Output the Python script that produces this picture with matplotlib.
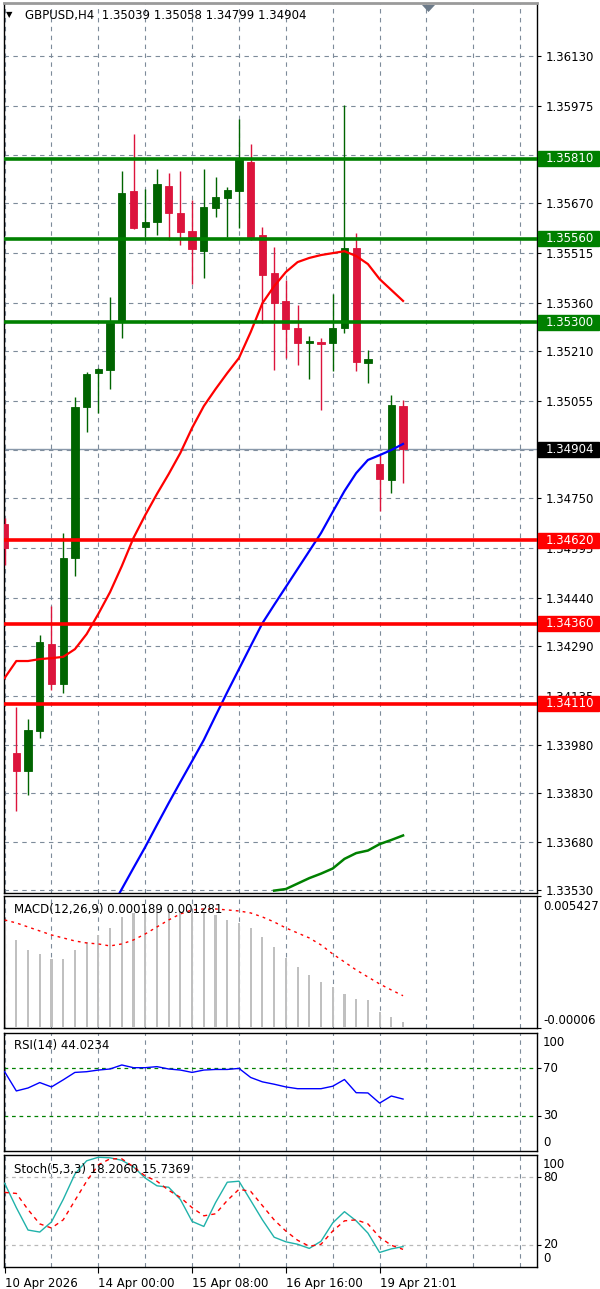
import matplotlib
matplotlib.use("Agg")
import matplotlib.pyplot as plt
import matplotlib.transforms as mtrans
from matplotlib.patches import Rectangle, Polygon

# ---------------- data ----------------
symbol_title = "GBPUSD,H4"
last_ohlc = ["1.35039", "1.35058", "1.34799", "1.34904"]

opens = [1.34670, 1.33956, 1.33900, 1.34025, 1.34296, 1.34171, 1.34564, 1.35035, 1.35141, 1.35150,
         1.35303, 1.35708, 1.35596, 1.35612, 1.35724, 1.35640, 1.35584, 1.35521, 1.35655, 1.35687,
         1.35708, 1.35799, 1.35571, 1.35453, 1.35366, 1.35281, 1.35235, 1.35238, 1.35235, 1.35281,
         1.35531, 1.35172, 1.34857, 1.34807, 1.35039]
highs = [1.34689, 1.34100, 1.34062, 1.34324, 1.34414, 1.34642, 1.35066, 1.35144, 1.35157, 1.35378,
         1.35771, 1.35886, 1.35715, 1.35777, 1.35765, 1.35771, 1.35680, 1.35777, 1.35752, 1.35721,
         1.35933, 1.35855, 1.35596, 1.35534, 1.35431, 1.35353, 1.35256, 1.35250, 1.35387, 1.35977,
         1.35578, 1.35213, 1.34885, 1.35072, 1.35058]
lows = [1.34542, 1.33775, 1.33825, 1.34003, 1.34153, 1.34143, 1.34508, 1.34957, 1.35016, 1.35091,
        1.35250, 1.35590, 1.35565, 1.35571, 1.35556, 1.35540, 1.35419, 1.35437, 1.35627, 1.35565,
        1.35593, 1.35556, 1.35297, 1.35150, 1.35188, 1.35166, 1.35122, 1.35026, 1.35147, 1.35266,
        1.35147, 1.35110, 1.34711, 1.34767, 1.34799]
closes = [1.34595, 1.33900, 1.34028, 1.34302, 1.34171, 1.34564, 1.35035, 1.35138, 1.35153, 1.35297,
          1.35702, 1.35593, 1.35612, 1.35730, 1.35640, 1.35581, 1.35528, 1.35659, 1.35690, 1.35712,
          1.35811, 1.35565, 1.35447, 1.35359, 1.35278, 1.35235, 1.35241, 1.35231, 1.35281, 1.35531,
          1.35175, 1.35185, 1.34810, 1.35040, 1.34904]

ma_red = [1.34190, 1.34243, 1.34243, 1.34249, 1.34252, 1.34256, 1.34280, 1.34327, 1.34390, 1.34458,
          1.34539, 1.34627, 1.34698, 1.34764, 1.34826, 1.34892, 1.34970, 1.35038, 1.35091, 1.35141,
          1.35188, 1.35269, 1.35359, 1.35412, 1.35456, 1.35487, 1.35500, 1.35509, 1.35515, 1.35521,
          1.35506, 1.35481, 1.35434, 1.35400, 1.35366]
ma_blue_start = 9
ma_blue = [1.33467, 1.33532, 1.33598, 1.33663, 1.33732, 1.33800, 1.33866, 1.33931, 1.33997, 1.34072,
           1.34146, 1.34218, 1.34290, 1.34361, 1.34418, 1.34474, 1.34530, 1.34586, 1.34642, 1.34708,
           1.34773, 1.34829, 1.34870, 1.34885, 1.34901, 1.34920]
ma_green_start = 23
ma_green = [1.33527, 1.33532, 1.33549, 1.33566, 1.33580, 1.33596, 1.33626, 1.33644, 1.33652, 1.33672,
            1.33685, 1.33699]

resistance_levels = [1.35810, 1.35560, 1.35300]
support_levels = [1.34620, 1.34360, 1.34110]
bid_price = 1.34904

price_ticks = [1.36130, 1.35975, 1.35820, 1.35670, 1.35515, 1.35360, 1.35210, 1.35055, 1.34900,
               1.34750, 1.34595, 1.34440, 1.34290, 1.34135, 1.33980, 1.33830, 1.33680, 1.33530]
price_tick_labels = ["1.36130", "1.35975", "", "1.35670", "1.35515", "1.35360", "1.35210", "1.35055", "",
                     "1.34750", "1.34595", "1.34440", "1.34290", "1.34135", "1.33980", "1.33830", "1.33680",
                     "1.33530"]

macd_hist = [0.004307, 0.003600, 0.003184, 0.003018, 0.002810, 0.002810, 0.003184, 0.003517, 0.003808,
             0.004099, 0.004556, 0.004722, 0.004847, 0.004889, 0.004889, 0.004806, 0.004722, 0.004722,
             0.004639, 0.004431, 0.004307, 0.004099, 0.003725, 0.003309, 0.002852, 0.002478, 0.002145,
             0.001854, 0.001646, 0.001355, 0.001147, 0.001106, 0.000607, 0.000399, 0.000189]
macd_signal = [0.004431, 0.004307, 0.004140, 0.003974, 0.003808, 0.003683, 0.003558, 0.003475, 0.003434,
               0.003351, 0.003434, 0.003600, 0.003849, 0.004140, 0.004431, 0.004681, 0.004847, 0.004889,
               0.004889, 0.004847, 0.004805, 0.004722, 0.004556, 0.004348, 0.004099, 0.003891, 0.003683,
               0.003392, 0.003018, 0.002685, 0.002353, 0.002062, 0.001771, 0.001521, 0.001281]
macd_scale = [-0.00006, 0.005427]
macd_scale_labels = ["-0.00006", "0.005427"]

rsi = [67.2, 50.9, 53.4, 58.0, 54.3, 60.3, 66.6, 67.2, 68.6, 69.5,
       72.9, 70.6, 70.6, 71.5, 69.5, 68.6, 66.6, 68.6, 69.1, 69.1,
       70.0, 62.3, 58.6, 56.6, 54.3, 52.8, 52.8, 52.8, 54.9, 60.6,
       49.4, 49.2, 40.6, 46.6, 44.0234]
rsi_levels = [70, 30]
rsi_ticks = [100, 70, 30, 0]

stoch_main = [74.8, 53.0, 33.0, 31.2, 40.3, 60.3, 83.0, 94.8, 98.0, 97.5,
              95.3, 89.4, 79.4, 72.5, 71.2, 60.3, 40.7, 36.2, 57.5, 75.7,
              76.6, 59.4, 42.1, 26.6, 22.5, 20.3, 16.6, 23.0, 39.4, 49.4,
              41.2, 30.3, 13.0, 16.2, 18.206]
stoch_signal = [66.6, 65.7, 51.2, 38.5, 34.8, 42.1, 59.4, 76.6, 91.2, 96.6,
                96.6, 89.4, 81.2, 76.6, 68.5, 62.1, 53.0, 45.7, 47.5, 59.4,
                69.4, 67.5, 54.8, 42.1, 32.1, 23.9, 18.5, 20.3, 32.1, 41.2,
                42.1, 38.5, 26.6, 19.4, 15.7369]
stoch_levels = [80, 20]
stoch_ticks = [100, 80, 20, 0]

time_labels = ["10 Apr 2026", "14 Apr 00:00", "15 Apr 08:00", "16 Apr 16:00", "19 Apr 21:01"]
time_label_bars = [0, 8, 16, 24, 32]

# ---------------- styling ----------------
W, H = 600, 1289
BULL = "#006400"
BEAR = "#dc143c"
GRID = "#7d8b9a"
FS = 8.5
plt.rcParams["font.family"] = ["DejaVu Sans"]

fig = plt.figure(figsize=(W / 100, H / 100), dpi=100)
fig.patch.set_facecolor("white")


def px_axes(left, top, right, bottom):
    return fig.add_axes([left / W, 1 - bottom / H, (right - left) / W, (bottom - top) / H])


n = len(closes)
bars = list(range(n))
XL = (-0.051, 45.43)
grid_bars = list(range(0, 46, 4))

ax = px_axes(4, 3, 537, 893)
ax_macd = px_axes(4, 896, 537, 1028)
ax_rsi = px_axes(4, 1033, 537, 1151)
ax_st = px_axes(4, 1155, 537, 1267)

for a in (ax, ax_macd, ax_rsi, ax_st):
    a.set_xlim(*XL)
    for s in a.spines.values():
        s.set_color("black")
        s.set_linewidth(1.0)
    a.yaxis.tick_right()
    a.tick_params(axis="y", which="both", direction="out", length=3, width=0.8,
                  labelsize=FS, pad=3, colors="black", left=False, right=True)
    a.tick_params(axis="x", bottom=False, labelbottom=False)
    for gb in grid_bars:
        a.axvline(gb, color=GRID, lw=0.8, ls=(0, (4, 4)), zorder=0.5)
ax.spines["top"].set_color("#9a9a9a")
ax.spines["top"].set_linewidth(2.0)

# ---------------- main chart ----------------
ax.set_ylim(1.335196, 1.36295)
ax.set_yticks(price_ticks)
ax.set_yticklabels(price_tick_labels)
for p in price_ticks:
    ax.axhline(p, color=GRID, lw=0.8, ls=(0, (4, 4)), zorder=0.5)

# bid line
ax.axhline(bid_price, color="#8a99aa", lw=1.0, zorder=1)

# candles
for i in bars:
    o, h, l, c = opens[i], highs[i], lows[i], closes[i]
    col = BULL if c >= o else BEAR
    ax.vlines(i, l, h, color=col, lw=1.0, zorder=3)
    ax.bar(i, abs(c - o), bottom=min(o, c), width=0.62, color=col, edgecolor=col,
           linewidth=0.6, zorder=4)

# moving averages
ax.plot(bars, ma_red, color="#ff0000", lw=1.6, zorder=5)
ax.plot(range(ma_blue_start, ma_blue_start + len(ma_blue)), ma_blue, color="#0000ff", lw=1.6, zorder=5)
ax.plot(range(ma_green_start, ma_green_start + len(ma_green)), ma_green, color="#008000", lw=1.8, zorder=5)

# support / resistance lines
for lv in resistance_levels:
    ax.axhline(lv, color="#008000", lw=2.6, zorder=6)
for lv in support_levels:
    ax.axhline(lv, color="#ff0000", lw=2.6, zorder=6)

# right-axis price boxes
bt = mtrans.blended_transform_factory(ax.transAxes, ax.transData)
box_h = 15 / (890 / (1.36295 - 1.335196))
box_w = 61 / 533.0


def price_box(val, face):
    ax.add_patch(Rectangle((1.0 + 1 / 533, val - box_h / 2), box_w, box_h, transform=bt,
                           facecolor=face, edgecolor=face, clip_on=False, zorder=10))
    ax.text(1.0 + 9 / 533, val, f"{val:.5f}", transform=bt, color="white", fontsize=FS,
            va="center", ha="left", clip_on=False, zorder=11)


for lv in resistance_levels:
    price_box(lv, "#008000")
for lv in support_levels:
    price_box(lv, "#ff0000")
price_box(bid_price, "black")

# header
fig.text(6 / W, 1 - 15 / H, "\u25bc", fontsize=6, color="black", va="center", ha="left")
fig.text(25 / W, 1 - 15 / H, f"{symbol_title}  " + " ".join(last_ohlc), fontsize=FS,
         color="black", va="center", ha="left")
# chart-shift marker
tri = Polygon([[422 / W, 1 - 5 / H], [435 / W, 1 - 5 / H], [428.5 / W, 1 - 12 / H]],
              closed=True, transform=fig.transFigure, facecolor="#6c7a89", edgecolor="none")
fig.add_artist(tri)


def side_label(a, y_axes, text):
    a.text(1.0 + 6 / 533, y_axes, text, transform=a.transAxes, fontsize=FS, color="black",
           va="center", ha="left", clip_on=False)


# ---------------- MACD ----------------
ax_macd.set_ylim(*macd_scale)
ax_macd.bar(bars, macd_hist, width=0.18, color="#c0c0c0", zorder=2)
ax_macd.plot(bars, macd_signal, color="#ff0000", lw=1.0, ls=(0, (2, 3)), zorder=3)
ax_macd.set_yticks(macd_scale)
ax_macd.set_yticklabels([])
side_label(ax_macd, 1 - 10 / 132, macd_scale_labels[1])
side_label(ax_macd, 1 - 124 / 132, macd_scale_labels[0])
ax_macd.text(10 / 533, 1 - 14 / 132, "MACD(12,26,9) 0.000189 0.001281", transform=ax_macd.transAxes,
             fontsize=FS, va="center", ha="left", color="black", zorder=6)

# ---------------- RSI ----------------
ax_rsi.set_ylim(0, 100)
for lv in rsi_levels:
    ax_rsi.axhline(lv, color="#008000", lw=0.9, ls=(0, (3, 3)), zorder=1)
ax_rsi.plot(bars, rsi, color="#0000ff", lw=1.0, zorder=3)
ax_rsi.set_yticks(rsi_levels)
ax_rsi.set_yticklabels([])
side_label(ax_rsi, 1 - 10 / 118, str(rsi_ticks[0]))
for lv in rsi_levels:
    side_label(ax_rsi, lv / 100, str(lv))
side_label(ax_rsi, 1 - 109 / 118, str(rsi_ticks[3]))
ax_rsi.text(10 / 533, 1 - 13 / 118, "RSI(14) 44.0234", transform=ax_rsi.transAxes,
            fontsize=FS, va="center", ha="left", color="black", zorder=6)

# ---------------- Stochastic ----------------
ax_st.set_ylim(0, 100)
for lv in stoch_levels:
    ax_st.axhline(lv, color="#b8b8b8", lw=0.9, ls=(0, (3, 3)), zorder=1)
ax_st.plot(bars, stoch_main, color="#20b2aa", lw=1.0, zorder=3)
ax_st.plot(bars, stoch_signal, color="#ff0000", lw=1.0, ls=(0, (3, 3)), zorder=3)
ax_st.set_yticks(stoch_levels)
ax_st.set_yticklabels([])
side_label(ax_st, 1 - 10 / 112, str(stoch_ticks[0]))
for lv in stoch_levels:
    side_label(ax_st, lv / 100, str(lv))
side_label(ax_st, 1 - 103 / 112, str(stoch_ticks[3]))
ax_st.text(10 / 533, 1 - 14 / 112, "Stoch(5,3,3) 18.2060 15.7369", transform=ax_st.transAxes,
           fontsize=FS, va="center", ha="left", color="black", zorder=6)

ax_st.set_xticks(time_label_bars)
ax_st.set_xticklabels(time_labels, ha="left")
ax_st.tick_params(axis="x", bottom=True, labelbottom=True, direction="out", length=4, width=0.8,
                  labelsize=FS, pad=3, colors="black")

fig.savefig("out.png", dpi=100, facecolor="white")
